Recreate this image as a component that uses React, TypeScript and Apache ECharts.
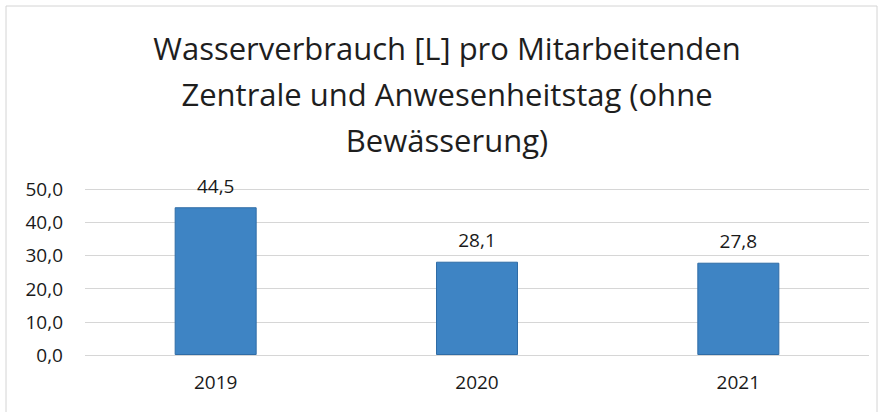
import React, { useEffect, useRef } from "react";
import * as echarts from "echarts";

const categories = ["2019", "2020", "2021"];
const values = [44.5, 28.1, 27.8];
const titleLines = [
  "Wasserverbrauch [L] pro Mitarbeitenden",
  "Zentrale und Anwesenheitstag (ohne",
  "Bewässerung)",
];

const fmt = (v: number) => v.toFixed(1).replace(".", ",");

export default function App() {
  const ref = useRef<HTMLDivElement>(null);
  useEffect(() => {
    if (!ref.current) return;
    const chart = echarts.init(ref.current, undefined, { renderer: "svg" });
    const font = "'Open Sans', 'Noto Sans', sans-serif";
    chart.setOption({
      animation: false,
      backgroundColor: "#ffffff",
      title: {
        text: titleLines.join("\n"),
        left: 447,
        top: 25,
        textAlign: "center",
        padding: 0,
        textStyle: {
          fontFamily: font,
          fontSize: 31,
          fontWeight: "normal",
          color: "#1e1e1e",
          lineHeight: 46,
        },
      },
      graphic: [
        {
          type: "rect",
          shape: { x: 6, y: 6, width: 871, height: 420 },
          style: { fill: "none", stroke: "#d4d4d4", lineWidth: 1 },
          silent: true,
        },
      ],
      grid: { left: 85, right: 14, top: 189, bottom: 57 },
      xAxis: {
        type: "category",
        data: categories,
        axisLine: { show: false },
        axisTick: { show: false },
        axisLabel: {
          fontFamily: font,
          fontSize: 19,
          color: "#1a1a1a",
          margin: 17,
        },
      },
      yAxis: {
        type: "value",
        min: 0,
        max: 50,
        interval: 10,
        axisLine: { show: false },
        axisTick: { show: false },
        splitLine: { lineStyle: { color: "#d6d6d6", width: 1 } },
        axisLabel: {
          fontFamily: font,
          fontSize: 19,
          color: "#1a1a1a",
          margin: 22,
          formatter: (v: number) => fmt(v),
        },
      },
      series: [
        {
          type: "bar",
          data: values,
          barWidth: 82,
          itemStyle: { color: "#3e84c4", borderColor: "#2f6ca6", borderWidth: 1 },
          label: {
            show: true,
            position: "top",
            distance: 12,
            fontFamily: font,
            fontSize: 19,
            color: "#1a1a1a",
            formatter: (p: any) => fmt(p.value),
          },
        },
      ],
    });
    return () => chart.dispose();
  }, []);
  return (
    <div
      ref={ref}
      style={{ position: "absolute", left: 0, top: 0, width: 883, height: 412 }}
    />
  );
}
